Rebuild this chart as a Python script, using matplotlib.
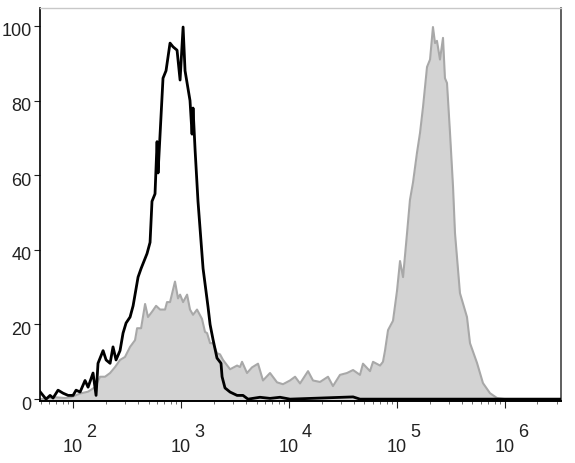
import numpy as np
import matplotlib
matplotlib.use("Agg")
import matplotlib.pyplot as plt
import matplotlib.transforms as mtransforms
from matplotlib.ticker import LogLocator, NullFormatter

plt.rcParams['font.family'] = ['Liberation Sans', 'DejaVu Sans']

# Control (black outline) histogram: log10 fluorescence vs % of max
black_log = [1.694, 1.722, 1.750, 1.787, 1.815, 1.861, 1.907, 1.954, 2.000, 2.028,
             2.065, 2.111, 2.139, 2.185, 2.213, 2.231, 2.278, 2.306, 2.343, 2.370,
             2.398, 2.435, 2.463, 2.491, 2.528, 2.556, 2.602, 2.630, 2.685, 2.713,
             2.731, 2.759, 2.778, 2.787, 2.833, 2.861, 2.898, 2.926, 2.963, 2.991,
             3.019, 3.037, 3.056, 3.083, 3.102, 3.111, 3.130, 3.157, 3.204, 3.250,
             3.269, 3.296, 3.333, 3.370, 3.380, 3.407, 3.454, 3.519, 3.574, 3.620,
             3.731, 3.824, 3.917, 4.009, 4.593, 4.657, 5.000, 6.519]
black_val = [2, 1, 0, 1, 0.3, 2.4, 1.6, 1, 1, 2.4,
             1.9, 5, 3.2, 7, 1, 9.6, 13, 10.5, 9.6, 14,
             10.5, 13, 17.7, 20.4, 22, 25, 32.7, 35, 39, 42,
             53, 55, 69, 60.6, 86, 88, 95.4, 94.4, 93.5, 85.5,
             99.7, 88, 84.7, 80, 71, 78, 66.8, 53, 35, 24.7,
             20, 16, 11, 9.6, 6, 3, 1.9, 1, 1, 0,
             0.5, 0.2, 0.5, 0, 0.6, 0, 0, 0]

# Stained sample (grey filled) histogram
gray_log = [1.694, 1.833, 1.926, 1.981, 2.065, 2.139, 2.204, 2.250, 2.296, 2.343,
            2.389, 2.435, 2.481, 2.528, 2.574, 2.593, 2.630, 2.667, 2.694, 2.731,
            2.769, 2.806, 2.852, 2.870, 2.898, 2.944, 2.972, 2.991, 3.019, 3.056,
            3.083, 3.111, 3.148, 3.194, 3.222, 3.241, 3.269, 3.296, 3.333, 3.361,
            3.389, 3.454, 3.519, 3.546, 3.565, 3.611, 3.657, 3.713, 3.759, 3.824,
            3.889, 3.944, 4.009, 4.056, 4.102, 4.176, 4.222, 4.287, 4.361, 4.407,
            4.472, 4.537, 4.593, 4.657, 4.685, 4.750, 4.778, 4.843, 4.870, 4.889,
            4.917, 4.963, 5.000, 5.028, 5.056, 5.093, 5.120, 5.148, 5.185, 5.213,
            5.241, 5.278, 5.306, 5.333, 5.352, 5.370, 5.398, 5.426, 5.444, 5.463,
            5.491, 5.519, 5.537, 5.583, 5.648, 5.676, 5.741, 5.796, 5.861, 5.926,
            6.000, 6.519]
gray_val = [0, 0.5, 0.3, 0.5, 1.5, 2, 3.2, 6, 6, 7,
            8.6, 10.5, 11.3, 14, 15.8, 19, 19, 25.5, 22, 23.4,
            25, 24, 24, 26, 26, 31.5, 27, 28, 26, 28,
            24, 22.6, 24, 21.5, 18, 17.7, 15, 15, 12.3, 12,
            10.5, 8, 9, 8.6, 10, 7, 8.5, 9.5, 5, 7,
            4.5, 4, 5, 6, 4.2, 7.5, 5, 4.6, 6, 3.5,
            6.5, 7, 7.8, 6.5, 9.5, 7.5, 10, 9, 10, 13,
            18.5, 21, 29, 37, 32.7, 44.5, 53.4, 58, 66, 71.3,
            78.3, 89, 91, 99.7, 95.4, 96, 91, 96.8, 86, 84.7,
            71.3, 56.8, 44.5, 28.4, 22, 15, 9.7, 4.3, 1.6, 0.3,
            0, 0]

y_ticks = [0, 20, 40, 60, 80, 100]
x_decades = [2, 3, 4, 5, 6]

fig = plt.figure(figsize=(5.75, 4.63), dpi=100)
ax = fig.add_axes([0.0696, 0.1339, 0.9061, 0.8488])

xb = 10.0 ** np.array(black_log)
xg = 10.0 ** np.array(gray_log)
ymin, ymax = -0.5, 104.8

ax.fill_between(xg, ymin, gray_val, color='#d3d3d3', lw=0, zorder=1)
ax.plot(xg, gray_val, color='#a8a8a8', lw=1.5, zorder=2)
ax.plot(xb, black_val, color='black', lw=2.0, zorder=3)

ax.set_xscale('log')
ax.set_xlim(10 ** 1.694, 10 ** 6.519)
ax.set_ylim(ymin, ymax)

ax.set_yticks(y_ticks)
ax.set_yticklabels([str(v) for v in y_ticks])
ax.tick_params(axis='y', direction='out', length=4, width=0.8, pad=2.2,
               labelsize=13, colors='#222222')
off_y = mtransforms.ScaledTranslation(0, -0.04, fig.dpi_scale_trans)
for lab in ax.get_yticklabels():
    lab.set_transform(lab.get_transform() + off_y)

ax.set_xticks([10.0 ** d for d in x_decades])
ax.set_xticklabels(['10'] * len(x_decades))
ax.xaxis.set_minor_locator(LogLocator(base=10, subs=np.arange(2, 10), numticks=20))
ax.xaxis.set_minor_formatter(NullFormatter())
ax.tick_params(axis='x', which='major', direction='out', length=5, width=0.8,
               pad=22.5, labelsize=13, colors='#222222')
ax.tick_params(axis='x', which='minor', direction='out', length=2.5, width=0.6,
               colors='#555555')

for d in x_decades:
    ax.annotate(str(d), xy=(10.0 ** d, 0), xycoords=('data', 'axes fraction'),
                xytext=(13, -22.5), textcoords='offset points',
                ha='center', va='center', fontsize=13, color='#222222')

ax.spines['top'].set_color('#c8c8c8')
ax.spines['right'].set_color('#444444')
ax.spines['left'].set_color('black')
ax.spines['bottom'].set_color('black')
ax.spines['left'].set_linewidth(1.2)
ax.spines['bottom'].set_linewidth(1.4)
ax.spines['right'].set_linewidth(1.2)
ax.spines['top'].set_linewidth(1.0)

fig.savefig('out.png', dpi=100)
